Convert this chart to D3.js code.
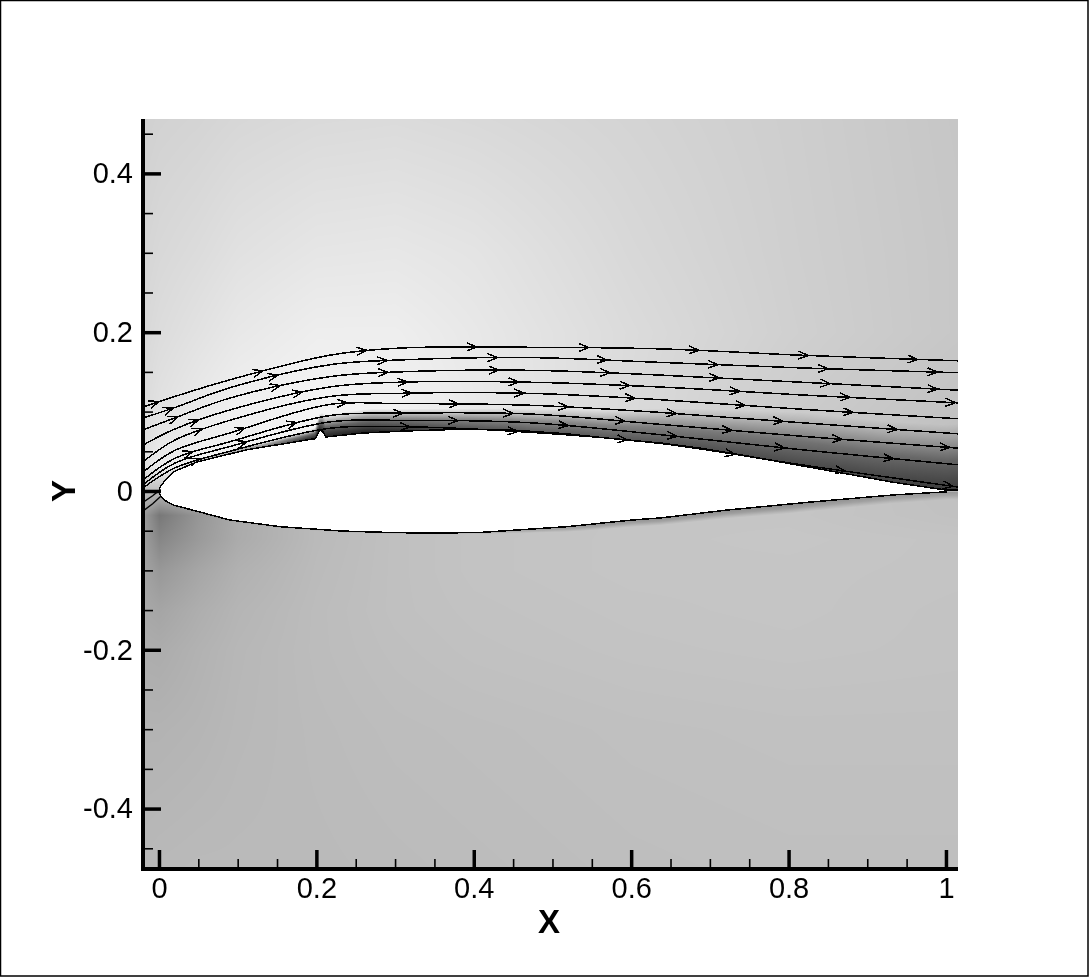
<!DOCTYPE html>
<html>
<head>
<meta charset="utf-8">
<script src="https://cdn.jsdelivr.net/npm/d3@7"></script>
<style>
  html, body { margin: 0; padding: 0; background: #fff; }
  #chart { position: relative; width: 1089px; height: 978px; overflow: hidden; }
  #chart canvas, #chart svg { position: absolute; left: 0; top: 0; }
  text { font-family: "Liberation Sans", Arial, sans-serif; fill: #000; }
</style>
</head>
<body>
<div id="chart"></div>
<script>
const width = 1089, height = 978;
const plot = {left: 143, right: 958, top: 119, bottom: 869};

const xDomain = [-0.0203, 1.0153];
const yDomain = [0.4685, -0.4761];
const xMajorTicks = [0, 0.2, 0.4, 0.6, 0.8, 1];
const xMinorTicks = [0.05, 0.1, 0.15, 0.25, 0.3, 0.35, 0.45, 0.5, 0.55, 0.65, 0.7, 0.75, 0.85, 0.9, 0.95];
const yMajorTicks = [-0.4, -0.2, 0, 0.2, 0.4];
const yMinorTicks = [-0.45, -0.35, -0.3, -0.25, -0.15, -0.1, -0.05, 0.05, 0.1, 0.15, 0.25, 0.3, 0.35, 0.45];

// grey level of the background field
const fieldX = [-0.02, 0, 0.05, 0.1, 0.2, 0.3, 0.4, 0.6, 0.8, 1.016];
const fieldY = [0.469, 0.3, 0.2, 0.1, 0.03, 0, -0.03, -0.06, -0.1, -0.15, -0.2, -0.3, -0.477];
const fieldGrey = [
  [208, 210, 212, 215, 218, 219, 217, 212, 206, 198],
  [213, 216, 220, 225, 230, 231, 228, 216, 207, 199],
  [216, 220, 226, 232, 238, 238, 232, 219, 208, 199],
  [220, 226, 234, 240, 244, 242, 234, 218, 204, 194],
  [224, 236, 240, 242, 244, 240, 234, 218, 200, 188],
  [190, 190, 200, 200, 200, 200, 200, 200, 198, 192],
  [155, 120, 150, 170, 186, 192, 194, 197, 197, 193],
  [158, 134, 154, 171, 186, 192, 195, 197, 198, 196],
  [163, 152, 166, 177, 187, 192, 195, 197, 197, 196],
  [168, 165, 174, 181, 188, 192, 194, 196, 197, 195],
  [173, 172, 178, 183, 188, 191, 193, 195, 196, 195],
  [179, 179, 181, 184, 187, 189, 190, 192, 193, 193],
  [184, 185, 186, 186, 186, 187, 188, 190, 191, 191]
];

// airfoil outline
const upperX = [0, 0.0015, 0.006, 0.018, 0.048, 0.112, 0.199, 0.2046, 0.208, 0.212, 0.259, 0.315, 0.391, 0.446, 0.518, 0.595, 0.637, 0.687, 0.742, 0.849, 0.933, 1.001];
const upperY = [0, 0.005, 0.011, 0.024, 0.0365, 0.052, 0.066, 0.077, 0.075, 0.068, 0.073, 0.0756, 0.078, 0.077, 0.072, 0.064, 0.0605, 0.054, 0.045, 0.026, 0.011, 0.001];
const lowerX = [0, 0.0015, 0.006, 0.018, 0.052, 0.09, 0.154, 0.234, 0.3, 0.36, 0.412, 0.518, 0.602, 0.637, 0.722, 0.827, 0.933, 1.001];
const lowerY = [0, -0.005, -0.011, -0.0176, -0.0265, -0.0365, -0.045, -0.0505, -0.0525, -0.053, -0.052, -0.045, -0.0365, -0.034, -0.024, -0.014, -0.005, -0.001];
const wakeX = [1.001, 1.016];
const wakeY = [0.001, 0.001];

// dark layer above the upper surface: thickness and darkness along the chord
const layerX = [0, 0.06, 0.13, 0.19, 0.199, 0.212, 0.27, 0.315, 0.39, 0.47, 0.56, 0.69, 0.82, 0.93, 1.016];
const layerThick = [0.002, 0.004, 0.006, 0.012, 0.014, 0.028, 0.03, 0.028, 0.026, 0.028, 0.034, 0.05, 0.068, 0.076, 0.084];
const layerDark = [0.05, 0.25, 0.45, 0.85, 0.88, 0.86, 0.88, 0.8, 0.66, 0.6, 0.6, 0.62, 0.64, 0.66, 0.7];
// thin shade below the lower surface
const underX = [0, 0.4, 0.55, 0.8, 1.016];
const underThick = [0.002, 0.002, 0.008, 0.012, 0.01];
const underDark = [0.1, 0.1, 0.25, 0.3, 0.2];

// streamlines
const streamX = [-0.02, 0.02, 0.09, 0.217, 0.306, 0.47, 0.636, 0.816, 1.015];
const stream1 = [0.106, 0.119, 0.140, 0.171, 0.180, 0.181, 0.179, 0.171, 0.164];
const stream2 = [0.092, 0.105, 0.130, 0.159, 0.165, 0.168, 0.162, 0.155, 0.149];
const stream3 = [0.077, 0.092, 0.117, 0.144, 0.150, 0.152, 0.146, 0.137, 0.127];
const stream4 = [0.058, 0.078, 0.102, 0.131, 0.137, 0.137, 0.131, 0.121, 0.111];
const stream5 = [0.037, 0.064, 0.089, 0.119, 0.123, 0.123, 0.115, 0.103, 0.091];
const stream6 = [0.024, 0.051, 0.073, 0.109, 0.110, 0.108, 0.099, 0.086, 0.072];
const stream7 = [0.014, 0.041, 0.062, 0.095, 0.098, 0.097, 0.084, 0.069, 0.054];
const stream8 = [0.008, 0.035, 0.056, 0.087, 0.089, 0.086, 0.071, 0.052, 0.033];
const stream9 = [0.004, 0.029, 0.050, 0.079, 0.081, 0.074, 0.060, 0.033, 0.005];
const streams = [stream1, stream2, stream3, stream4, stream5, stream6, stream7, stream8, stream9];

// short lines around the stagnation point
const noseX = [-0.02, -0.008, 0.002];
const nose1 = [-0.014, -0.006, 0.002];
const nose2 = [-0.025, -0.016, -0.007];

// where the arrowheads sit on each streamline
const arrows1 = [0, 0.132, 0.264, 0.404, 0.546, 0.686, 0.825, 0.964];
const arrows2 = [0.018, 0.151, 0.29, 0.43, 0.569, 0.71, 0.85, 0.989];
const arrows3 = [0.024, 0.154, 0.291, 0.432, 0.573, 0.712, 0.853, 0.989];
const arrows4 = [0.05, 0.182, 0.316, 0.457, 0.598, 0.738, 0.878, 1.012];
const arrows5 = [0.055, 0.321, 0.464, 0.605, 0.745, 0.882];
const arrows6 = [0.109, 0.239, 0.381, 0.52, 0.658, 0.793, 0.938];
const arrows7 = [0.043, 0.175, 0.31, 0.45, 0.592, 0.728, 0.868, 1.005];
const arrows8 = [0.112, 0.38, 0.52, 0.658, 0.795, 0.933];
const arrows9 = [0.052, 0.319, 0.456, 0.595, 0.732, 0.872, 1.009];
const arrowSets = [arrows1, arrows2, arrows3, arrows4, arrows5, arrows6, arrows7, arrows8, arrows9];

const x = d3.scaleLinear().domain(xDomain).range([plot.left, plot.right]);
const y = d3.scaleLinear().domain(yDomain).range([plot.top, plot.bottom]);

const chart = d3.select("#chart");
const canvas = chart.append("canvas").attr("width", width).attr("height", height);
const ctx = canvas.node().getContext("2d");

drawField();
drawLayer(layerX, layerThick, layerDark, upperX, upperY, 1);
drawLayer(underX, underThick, underDark, lowerX, lowerY, -1);

function drawField() {
  const colIndex = d3.scaleLinear().domain(fieldX).range(d3.range(fieldX.length)).clamp(true);
  const rowIndex = d3.scaleLinear().domain(fieldY).range(d3.range(fieldY.length)).clamp(true);
  const w = plot.right - plot.left, h = plot.bottom - plot.top;
  const img = ctx.createImageData(w, h);
  for (let j = 0; j < h; ++j) {
    const r = rowIndex(y.invert(plot.top + j));
    const r0 = Math.min(Math.floor(r), fieldY.length - 2), rf = r - r0;
    for (let i = 0; i < w; ++i) {
      const c = colIndex(x.invert(plot.left + i));
      const c0 = Math.min(Math.floor(c), fieldX.length - 2), cf = c - c0;
      const top = fieldGrey[r0][c0] * (1 - cf) + fieldGrey[r0][c0 + 1] * cf;
      const bot = fieldGrey[r0 + 1][c0] * (1 - cf) + fieldGrey[r0 + 1][c0 + 1] * cf;
      const v = top * (1 - rf) + bot * rf;
      const k = (j * w + i) * 4;
      img.data[k] = img.data[k + 1] = img.data[k + 2] = v;
      img.data[k + 3] = 255;
    }
  }
  ctx.putImageData(img, plot.left, plot.top);
}

// one column at a time, fading from the surface outwards
function drawLayer(stationX, thick, dark, surfX, surfY, side) {
  const thickAt = d3.scaleLinear().domain(stationX).range(thick).clamp(true);
  const darkAt = d3.scaleLinear().domain(stationX).range(dark).clamp(true);
  const surfAt = d3.scaleLinear().domain(surfX).range(surfY).clamp(true);
  for (let px = x(0); px < plot.right; ++px) {
    const d = x.invert(px);
    const y0 = y(surfAt(d)), y1 = y(surfAt(d) + side * thickAt(d));
    const a = darkAt(d);
    const grad = ctx.createLinearGradient(0, y0, 0, y1);
    grad.addColorStop(0, "rgba(0,0,0," + a + ")");
    grad.addColorStop(0.45, "rgba(0,0,0," + a * 0.68 + ")");
    grad.addColorStop(0.8, "rgba(0,0,0," + a * 0.22 + ")");
    grad.addColorStop(1, "rgba(0,0,0,0)");
    ctx.fillStyle = grad;
    ctx.fillRect(Math.floor(px), Math.min(y0, y1), 1, Math.abs(y1 - y0));
  }
}

const svg = chart.append("svg").attr("width", width).attr("height", height);

svg.append("rect")
  .attr("x", 0.5).attr("y", 0.5)
  .attr("width", width - 1.5).attr("height", height - 2.5)
  .attr("fill", "none")
  .attr("stroke", "#000")
  .attr("stroke-width", 1.5);

svg.append("clipPath").attr("id", "plot-clip").append("rect")
  .attr("x", plot.left).attr("y", plot.top)
  .attr("width", plot.right - plot.left).attr("height", plot.bottom - plot.top);

const marks = svg.append("g").attr("clip-path", "url(#plot-clip)");

const outline = d3.line().x(d => x(d[0])).y(d => y(d[1]));
const upperPts = d3.zip(upperX, upperY);
const lowerPts = d3.zip(lowerX, lowerY);

marks.append("path")
  .attr("d", outline(upperPts.concat(lowerPts.slice().reverse())) + "Z")
  .attr("fill", "#fff")
  .attr("stroke", "none");

[upperPts, lowerPts, d3.zip(wakeX, wakeY)].forEach(pts => {
  marks.append("path")
    .attr("d", outline(pts))
    .attr("fill", "none")
    .attr("stroke", "#000")
    .attr("stroke-width", 1.5)
    .attr("shape-rendering", "crispEdges");
});

const curve = d3.line().x(d => x(d[0])).y(d => y(d[1])).curve(d3.curveCatmullRom.alpha(0.5));

streams.forEach((s, i) => {
  const path = marks.append("path")
    .attr("d", curve(d3.zip(streamX, s)))
    .attr("fill", "none")
    .attr("stroke", "#000")
    .attr("stroke-width", 1.5)
    .attr("shape-rendering", "crispEdges");
  drawArrows(path.node(), arrowSets[i]);
});

[nose1, nose2].forEach(s => {
  marks.append("path")
    .attr("d", outline(d3.zip(noseX, s)))
    .attr("fill", "none")
    .attr("stroke", "#000")
    .attr("stroke-width", 1.4);
});

function drawArrows(node, positions) {
  const total = node.getTotalLength();
  positions.forEach(p => {
    const target = x(p);
    let lo = 0, hi = total;
    for (let k = 0; k < 24; ++k) {
      const mid = (lo + hi) / 2;
      if (node.getPointAtLength(mid).x < target) lo = mid; else hi = mid;
    }
    const tip = node.getPointAtLength(lo);
    const back = node.getPointAtLength(Math.max(lo - 4, 0));
    const angle = Math.atan2(tip.y - back.y, tip.x - back.x) * 180 / Math.PI;
    marks.append("path")
      .attr("transform", "translate(" + tip.x + "," + tip.y + ") rotate(" + angle + ")")
      .attr("d", "M-10,-4L0,0L-10,4")
      .attr("fill", "none")
      .attr("stroke", "#000")
      .attr("stroke-width", 1.5)
      .attr("shape-rendering", "crispEdges");
  });
}

// axes: ticks point into the plot
const fmt = d => d === 0 ? "0" : String(d);

function styleAxis(g, width) {
  g.selectAll(".domain").remove();
  g.selectAll("line").attr("stroke", "#000").attr("stroke-width", width);
}

svg.append("g")
  .attr("transform", "translate(0," + plot.bottom + ")")
  .call(d3.axisBottom(x).tickValues(xMinorTicks).tickSize(-10).tickFormat(""))
  .call(styleAxis, 1.6);

svg.append("g")
  .attr("transform", "translate(" + plot.left + ",0)")
  .call(d3.axisLeft(y).tickValues(yMinorTicks).tickSize(-10).tickFormat(""))
  .call(styleAxis, 1.6);

const xAxis = svg.append("g")
  .attr("transform", "translate(0," + plot.bottom + ")")
  .call(d3.axisBottom(x).tickValues(xMajorTicks).tickSize(-19).tickPadding(8).tickFormat(fmt))
  .call(styleAxis, 3.5);
xAxis.selectAll("text")
  .attr("font-size", 29)
  .attr("font-family", null)
  .attr("fill", null);

const yAxis = svg.append("g")
  .attr("transform", "translate(" + plot.left + ",0)")
  .call(d3.axisLeft(y).tickValues(yMajorTicks).tickSize(-18).tickPadding(10).tickFormat(fmt))
  .call(styleAxis, 3.5);
yAxis.selectAll("text")
  .attr("font-size", 29)
  .attr("font-family", null)
  .attr("fill", null);

svg.append("line")
  .attr("x1", plot.left).attr("x2", plot.left)
  .attr("y1", plot.top).attr("y2", plot.bottom + 2)
  .attr("stroke", "#000").attr("stroke-width", 4);
svg.append("line")
  .attr("x1", plot.left - 2).attr("x2", plot.right)
  .attr("y1", plot.bottom).attr("y2", plot.bottom)
  .attr("stroke", "#000").attr("stroke-width", 4);

svg.append("text")
  .attr("x", 549).attr("y", 933)
  .attr("text-anchor", "middle")
  .attr("font-size", 33)
  .attr("font-weight", "bold")
  .text("X");

svg.append("text")
  .attr("transform", "translate(75,491) rotate(-90)")
  .attr("text-anchor", "middle")
  .attr("font-size", 33)
  .attr("font-weight", "bold")
  .text("Y");
</script>
</body>
</html>
